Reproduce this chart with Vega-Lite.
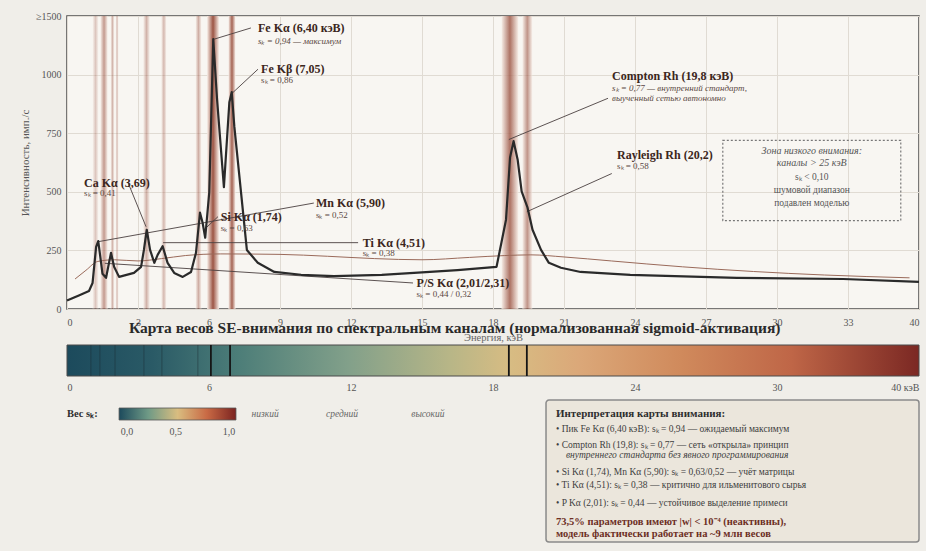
{
  "$schema": "https://vega.github.io/schema/vega-lite/v6.json",
  "background": "#f0eee9",
  "padding": {"left": 18, "top": 10, "right": 5, "bottom": 5},
  "bounds": "flush",
  "spacing": 36,
  "config": {"font": "Liberation Serif, serif", "text": {"font": "Liberation Serif, serif"}, "axis": {"labelFont": "Liberation Serif, serif", "titleFont": "Liberation Serif, serif"}, "title": {"font": "Liberation Serif, serif"}, "view": {"stroke": null}},
  "datasets": {
    "spectrum": [
      {"e": 0, "i": 36}, {"e": 0.5, "i": 58}, {"e": 0.93, "i": 77}, {"e": 1.08, "i": 111},
      {"e": 1.23, "i": 265}, {"e": 1.32, "i": 290}, {"e": 1.44, "i": 197}, {"e": 1.5, "i": 150},
      {"e": 1.65, "i": 133}, {"e": 1.86, "i": 240}, {"e": 1.99, "i": 180}, {"e": 2.2, "i": 137},
      {"e": 2.83, "i": 154}, {"e": 3.13, "i": 180}, {"e": 3.25, "i": 252}, {"e": 3.37, "i": 338},
      {"e": 3.51, "i": 252}, {"e": 3.69, "i": 197}, {"e": 3.83, "i": 231}, {"e": 4.04, "i": 268},
      {"e": 4.25, "i": 197}, {"e": 4.53, "i": 154}, {"e": 4.89, "i": 137}, {"e": 5.24, "i": 158},
      {"e": 5.45, "i": 240}, {"e": 5.62, "i": 411}, {"e": 5.73, "i": 368}, {"e": 5.84, "i": 304},
      {"e": 6.01, "i": 497}, {"e": 6.18, "i": 1151}, {"e": 6.34, "i": 895}, {"e": 6.63, "i": 520},
      {"e": 6.86, "i": 882}, {"e": 6.96, "i": 925}, {"e": 7.07, "i": 779}, {"e": 7.6, "i": 252},
      {"e": 8.06, "i": 197}, {"e": 8.76, "i": 158}, {"e": 9.89, "i": 146}, {"e": 11.28, "i": 140},
      {"e": 13.3, "i": 146}, {"e": 15, "i": 156}, {"e": 16.5, "i": 166}, {"e": 18.15, "i": 180},
      {"e": 18.55, "i": 381}, {"e": 18.72, "i": 646}, {"e": 18.87, "i": 716}, {"e": 19.04, "i": 638},
      {"e": 19.21, "i": 502}, {"e": 19.46, "i": 432}, {"e": 19.67, "i": 338}, {"e": 20.03, "i": 252},
      {"e": 20.36, "i": 197}, {"e": 20.87, "i": 176}, {"e": 21.7, "i": 158}, {"e": 23.8, "i": 146},
      {"e": 28.3, "i": 133}, {"e": 32.8, "i": 128}, {"e": 36, "i": 116}
    ],
    "baseline": [
      {"e": 0.34, "i": 128}, {"e": 0.8, "i": 165}, {"e": 1.3, "i": 203}, {"e": 2.0, "i": 210},
      {"e": 3.0, "i": 205}, {"e": 4.0, "i": 215}, {"e": 5.0, "i": 228}, {"e": 6.5, "i": 235},
      {"e": 9.0, "i": 233}, {"e": 11.0, "i": 225}, {"e": 13.0, "i": 215}, {"e": 15.0, "i": 210},
      {"e": 17.0, "i": 220}, {"e": 18.5, "i": 228}, {"e": 19.6, "i": 231}, {"e": 21.0, "i": 222},
      {"e": 23.0, "i": 205}, {"e": 26.0, "i": 180}, {"e": 29.0, "i": 160}, {"e": 32.0, "i": 145},
      {"e": 35.6, "i": 133}
    ],
    "bands": [
      {"e": 1.08, "e2": 1.33, "w": 0.3}, {"e": 1.41, "e2": 1.72, "w": 0.55},
      {"e": 1.84, "e2": 2.0, "w": 0.4}, {"e": 2.05, "e2": 2.18, "w": 0.35},
      {"e": 3.22, "e2": 3.5, "w": 0.41}, {"e": 3.98, "e2": 4.2, "w": 0.38},
      {"e": 5.43, "e2": 5.68, "w": 0.44}, {"e": 5.92, "e2": 6.42, "w": 0.94},
      {"e": 6.82, "e2": 7.12, "w": 0.86}, {"e": 18.36, "e2": 19.07, "w": 0.77},
      {"e": 19.24, "e2": 19.66, "w": 0.58}
    ],
    "leaders": [
      {"e": 6.21, "i": 1151, "e2": 7.77, "i2": 1199},
      {"e": 6.93, "i": 916, "e2": 8.07, "i2": 1023},
      {"e": 3.34, "i": 351, "e2": 2.58, "i2": 539},
      {"e": 1.31, "i": 287, "e2": 10.43, "i2": 452},
      {"e": 5.79, "i": 338, "e2": 6.38, "i2": 394},
      {"e": 4.06, "i": 283, "e2": 12.3, "i2": 283},
      {"e": 1.6, "i": 195, "e2": 14.62, "i2": 111},
      {"e": 18.67, "i": 723, "e2": 22.86, "i2": 899},
      {"e": 19.43, "i": 415, "e2": 23.02, "i2": 578}
    ],
    "labels": [
      {"e": 8.07, "i": 1199, "text": "Fe Kα (6,40 кэВ)", "kind": "t"},
      {"e": 8.07, "i": 1143, "text": "sₖ = 0,94 — максимум", "kind": "si"},
      {"e": 8.2, "i": 1023, "text": "Fe Kβ (7,05)", "kind": "t"},
      {"e": 8.2, "i": 976, "text": "sₖ = 0,86", "kind": "s"},
      {"e": 0.72, "i": 539, "text": "Ca Kα (3,69)", "kind": "t"},
      {"e": 0.72, "i": 497, "text": "sₖ = 0,41", "kind": "s"},
      {"e": 10.52, "i": 454, "text": "Mn Kα (5,90)", "kind": "t"},
      {"e": 10.52, "i": 402, "text": "sₖ = 0,52", "kind": "s"},
      {"e": 6.5, "i": 394, "text": "Si Kα (1,74)", "kind": "t"},
      {"e": 6.5, "i": 347, "text": "sₖ = 0,63", "kind": "s"},
      {"e": 12.5, "i": 283, "text": "Ti Kα (4,51)", "kind": "t"},
      {"e": 12.5, "i": 240, "text": "sₖ = 0,38", "kind": "s"},
      {"e": 14.77, "i": 111, "text": "P/S Kα (2,01/2,31)", "kind": "t"},
      {"e": 14.77, "i": 64, "text": "sₖ = 0,44 / 0,32", "kind": "s"},
      {"e": 23.03, "i": 993, "text": "Compton Rh (19,8 кэВ)", "kind": "t"},
      {"e": 23.03, "i": 942, "text": "sₖ = 0,77 — внутренний стандарт,", "kind": "si"},
      {"e": 23.03, "i": 899, "text": "выученный сетью автономно", "kind": "si"},
      {"e": 23.24, "i": 655, "text": "Rayleigh Rh (20,2)", "kind": "t"},
      {"e": 23.24, "i": 608, "text": "sₖ = 0,58", "kind": "s"}
    ],
    "zone": [{"e": 27.71, "e2": 35.23, "i": 377, "i2": 719}],
    "zoneText": [
      {"e": 31.47, "i": 672, "text": "Зона низкого внимания:", "kind": "zi"},
      {"e": 31.47, "i": 625, "text": "каналы > 25 кэВ", "kind": "zi"},
      {"e": 31.47, "i": 565, "text": "sₖ < 0,10", "kind": "zn"},
      {"e": 31.47, "i": 509, "text": "шумовой диапазон", "kind": "zn"},
      {"e": 31.47, "i": 454, "text": "подавлен моделью", "kind": "zn"}
    ],
    "stripHi": [{"e": 6.08}, {"e": 6.89}, {"e": 18.67}, {"e": 19.43}],
    "stripLo": [{"e": 1.01}, {"e": 1.39}, {"e": 2.03}, {"e": 3.25}, {"e": 4.01}, {"e": 5.53}],
    "legendText": [
      {"e": 0.0, "u": 1.2, "text": "Вес sₖ:", "kind": "lt"},
      {"e": 2.53, "u": 2.4, "text": "0,0", "kind": "ln"},
      {"e": 4.6, "u": 2.4, "text": "0,5", "kind": "ln"},
      {"e": 6.84, "u": 2.4, "text": "1,0", "kind": "ln"},
      {"e": 8.37, "u": 1.2, "text": "низкий", "kind": "li"},
      {"e": 11.62, "u": 1.2, "text": "средний", "kind": "li"},
      {"e": 15.25, "u": 1.2, "text": "высокий", "kind": "li"}
    ],
    "boxText": [
      {"e": 20.66, "u": 1.2, "text": "Интерпретация карты внимания:", "kind": "h"},
      {"e": 20.66, "u": 2.2, "text": "• Пик Fe Kα (6,40 кэВ): sₖ = 0,94 — ожидаемый максимум", "kind": "b"},
      {"e": 20.66, "u": 3.27, "text": "• Compton Rh (19,8): sₖ = 0,77 — сеть «открыла» принцип", "kind": "b"},
      {"e": 21.08, "u": 3.93, "text": "внутреннего стандарта без явного программирования", "kind": "bi"},
      {"e": 20.66, "u": 5.07, "text": "• Si Kα (1,74), Mn Kα (5,90): sₖ = 0,63/0,52 — учёт матрицы", "kind": "b"},
      {"e": 20.66, "u": 5.93, "text": "• Ti Kα (4,51): sₖ = 0,38 — критично для ильменитового сырья", "kind": "b"},
      {"e": 20.66, "u": 7.13, "text": "• P Kα (2,01): sₖ = 0,44 — устойчивое выделение примеси", "kind": "b"},
      {"e": 20.66, "u": 8.4, "text": "73,5% параметров имеют |w| < 10⁻⁴ (неактивны),", "kind": "r"},
      {"e": 20.66, "u": 9.2, "text": "модель фактически работает на ~9 млн весов", "kind": "r"}
    ]
  },
  "vconcat": [
    {
      "width": 852,
      "height": 293,
      "view": {"stroke": "#4d4d4d", "strokeWidth": 1.5, "fill": "#f8f6f2"},
      "layer": [
        {
          "data": {"name": "bands"},
          "mark": {"type": "rect", "fill": {"gradient": "linear", "x1": 0, "x2": 1, "y1": 0, "y2": 0, "stops": [{"offset": 0, "color": "#f6ece5"}, {"offset": 0.5, "color": "#9c5544"}, {"offset": 1, "color": "#f6ece5"}]}},
          "encoding": {
            "x": {"field": "e", "type": "quantitative", "scale": {"domain": [0, 36], "nice": false, "zero": false},
              "axis": {"values": [0, 3, 6, 9, 12, 15, 18, 21, 24, 27, 30, 33, 36], "format": "d", "labelExpr": "datum.value == 36 ? '40' : datum.label", "grid": true, "gridColor": "#e0dbd3", "ticks": false, "domain": false, "labelPadding": 8, "labelFontSize": 10, "labelColor": "#555", "title": "Энергия, кэВ", "titleFontSize": 10.5, "titleFontWeight": "normal", "titleColor": "#666", "titlePadding": 5}},
            "x2": {"field": "e2"},
            "opacity": {"field": "w", "type": "quantitative", "scale": {"domain": [0.3, 0.94], "range": [0.3, 1]}, "legend": null}
          }
        },
        {
          "data": {"name": "baseline"},
          "mark": {"type": "line", "color": "#9a6a5a", "strokeWidth": 1, "interpolate": "monotone"},
          "encoding": {
            "x": {"field": "e", "type": "quantitative", "scale": {"domain": [0, 36], "nice": false, "zero": false}},
            "y": {"field": "i", "type": "quantitative", "scale": {"domain": [0, 1250], "nice": false},
              "axis": {"values": [0, 250, 500, 750, 1000, 1250], "format": "d", "labelExpr": "datum.value == 1250 ? '≥1500' : datum.label", "grid": true, "gridColor": "#e0dbd3", "ticks": false, "domain": false, "labelPadding": 6, "labelFontSize": 10, "labelColor": "#555", "title": "Интенсивность, имп./с", "titleFontSize": 11, "titleFontWeight": "normal", "titleColor": "#555", "titlePadding": 5}}
          }
        },
        {
          "data": {"name": "leaders"},
          "mark": {"type": "rule", "color": "#4a4040", "strokeWidth": 0.9},
          "encoding": {
            "x": {"field": "e", "type": "quantitative"},
            "y": {"field": "i", "type": "quantitative"},
            "x2": {"field": "e2"},
            "y2": {"field": "i2"}
          }
        },
        {
          "data": {"name": "spectrum"},
          "mark": {"type": "line", "color": "#2a2a2a", "strokeWidth": 2.2, "strokeJoin": "round"},
          "encoding": {
            "x": {"field": "e", "type": "quantitative"},
            "y": {"field": "i", "type": "quantitative"}
          }
        },
        {
          "data": {"name": "zone"},
          "mark": {"type": "rect", "fillOpacity": 0, "stroke": "#777", "strokeWidth": 1.2, "strokeDash": [2, 2]},
          "encoding": {
            "x": {"field": "e", "type": "quantitative"},
            "x2": {"field": "e2"},
            "y": {"field": "i", "type": "quantitative"},
            "y2": {"field": "i2"}
          }
        },
        {
          "data": {"name": "labels"},
          "transform": [{"filter": "datum.kind == 't'"}],
          "mark": {"type": "text", "align": "left", "baseline": "middle", "fontSize": 12, "fontWeight": "bold", "color": "#3b2620"},
          "encoding": {
            "x": {"field": "e", "type": "quantitative"},
            "y": {"field": "i", "type": "quantitative"},
            "text": {"field": "text"}
          }
        },
        {
          "data": {"name": "labels"},
          "transform": [{"filter": "datum.kind == 's'"}],
          "mark": {"type": "text", "align": "left", "baseline": "middle", "fontSize": 9, "color": "#5a4842"},
          "encoding": {
            "x": {"field": "e", "type": "quantitative"},
            "y": {"field": "i", "type": "quantitative"},
            "text": {"field": "text"}
          }
        },
        {
          "data": {"name": "labels"},
          "transform": [{"filter": "datum.kind == 'si'"}],
          "mark": {"type": "text", "align": "left", "baseline": "middle", "fontSize": 9, "fontStyle": "italic", "color": "#5a4842"},
          "encoding": {
            "x": {"field": "e", "type": "quantitative"},
            "y": {"field": "i", "type": "quantitative"},
            "text": {"field": "text"}
          }
        },
        {
          "data": {"name": "zoneText"},
          "transform": [{"filter": "datum.kind == 'zi'"}],
          "mark": {"type": "text", "align": "center", "baseline": "middle", "fontSize": 10, "fontStyle": "italic", "color": "#555"},
          "encoding": {
            "x": {"field": "e", "type": "quantitative"},
            "y": {"field": "i", "type": "quantitative"},
            "text": {"field": "text"}
          }
        },
        {
          "data": {"name": "zoneText"},
          "transform": [{"filter": "datum.kind == 'zn'"}],
          "mark": {"type": "text", "align": "center", "baseline": "middle", "fontSize": 9.5, "color": "#555"},
          "encoding": {
            "x": {"field": "e", "type": "quantitative"},
            "y": {"field": "i", "type": "quantitative"},
            "text": {"field": "text"}
          }
        }
      ]
    },
    {
      "bounds": "flush",
      "spacing": 20,
      "vconcat": [
        {
          "width": 852,
          "height": 31,
          "title": {"text": "Карта весов SE-внимания по спектральным каналам (нормализованная sigmoid-активация)", "anchor": "start", "frame": "group", "dx": 62, "offset": 8, "fontSize": 15.5, "font": "Liberation Serif, serif", "fontWeight": "bold", "color": "#2a2a2a"},
          "layer": [
            {
              "data": {"values": [{"e": 0, "e2": 36}]},
              "mark": {"type": "rect", "stroke": "#4a4a4a", "strokeWidth": 1, "fill": {"gradient": "linear", "x1": 0, "x2": 1, "y1": 0, "y2": 0, "stops": [
                {"offset": 0, "color": "#1c4a5c"}, {"offset": 0.1, "color": "#2a5a66"}, {"offset": 0.2, "color": "#4c7d78"},
                {"offset": 0.33, "color": "#82a08a"}, {"offset": 0.45, "color": "#b8b687"}, {"offset": 0.52, "color": "#d7bc83"},
                {"offset": 0.6, "color": "#dba879"}, {"offset": 0.72, "color": "#d08a5c"}, {"offset": 0.85, "color": "#bf6647"},
                {"offset": 1, "color": "#7b2823"}]}},
              "encoding": {
                "x": {"field": "e", "type": "quantitative", "scale": {"domain": [0, 36], "nice": false, "zero": false},
                  "axis": {"values": [0, 6, 12, 18, 24, 30, 36], "format": "d", "labelExpr": "datum.value == 36 ? '40 кэВ' : datum.label", "grid": false, "ticks": false, "domain": false, "labelPadding": 6, "labelFontSize": 10, "labelColor": "#555", "title": null}},
                "x2": {"field": "e2"}
              }
            },
            {
              "data": {"name": "stripLo"},
              "mark": {"type": "rule", "color": "#1a2a30", "strokeWidth": 1, "opacity": 0.45},
              "encoding": {"x": {"field": "e", "type": "quantitative"}}
            },
            {
              "data": {"name": "stripHi"},
              "mark": {"type": "rule", "color": "#151515", "strokeWidth": 1.8},
              "encoding": {"x": {"field": "e", "type": "quantitative"}}
            }
          ]
        },
        {
          "width": 852,
          "height": 150,
          "layer": [
            {
              "data": {"values": [{"e": 20.24, "e2": 36, "u": 0.27, "u2": 9.73}]},
              "mark": {"type": "rect", "fill": "#ebe6dc", "stroke": "#8a8a8a", "strokeWidth": 1.5, "cornerRadius": 3},
              "encoding": {
                "x": {"field": "e", "type": "quantitative", "scale": {"domain": [0, 36], "nice": false, "zero": false}, "axis": null},
                "x2": {"field": "e2"},
                "y": {"field": "u", "type": "quantitative", "scale": {"domain": [0, 10], "reverse": true, "nice": false, "zero": false}, "axis": null},
                "y2": {"field": "u2"}
              }
            },
            {
              "data": {"values": [{"e": 2.2, "e2": 7.14, "u": 0.8, "u2": 1.6}]},
              "mark": {"type": "rect", "stroke": "#555", "strokeWidth": 0.8, "fill": {"gradient": "linear", "x1": 0, "x2": 1, "y1": 0, "y2": 0, "stops": [
                {"offset": 0, "color": "#1c4a5c"}, {"offset": 0.25, "color": "#6f9a86"}, {"offset": 0.5, "color": "#d9bd80"},
                {"offset": 0.75, "color": "#c96a45"}, {"offset": 1, "color": "#7b2320"}]}},
              "encoding": {
                "x": {"field": "e", "type": "quantitative"},
                "x2": {"field": "e2"},
                "y": {"field": "u", "type": "quantitative"},
                "y2": {"field": "u2"}
              }
            },
            {
              "data": {"name": "legendText"},
              "transform": [{"filter": "datum.kind == 'lt'"}],
              "mark": {"type": "text", "align": "left", "baseline": "middle", "fontSize": 10.5, "fontWeight": "bold", "color": "#2e2e2e"},
              "encoding": {"x": {"field": "e", "type": "quantitative"}, "y": {"field": "u", "type": "quantitative"}, "text": {"field": "text"}}
            },
            {
              "data": {"name": "legendText"},
              "transform": [{"filter": "datum.kind == 'ln'"}],
              "mark": {"type": "text", "align": "center", "baseline": "middle", "fontSize": 10, "color": "#555"},
              "encoding": {"x": {"field": "e", "type": "quantitative"}, "y": {"field": "u", "type": "quantitative"}, "text": {"field": "text"}}
            },
            {
              "data": {"name": "legendText"},
              "transform": [{"filter": "datum.kind == 'li'"}],
              "mark": {"type": "text", "align": "center", "baseline": "middle", "fontSize": 9.5, "fontStyle": "italic", "color": "#666"},
              "encoding": {"x": {"field": "e", "type": "quantitative"}, "y": {"field": "u", "type": "quantitative"}, "text": {"field": "text"}}
            },
            {
              "data": {"name": "boxText"},
              "transform": [{"filter": "datum.kind == 'h'"}],
              "mark": {"type": "text", "align": "left", "baseline": "middle", "fontSize": 11, "fontWeight": "bold", "color": "#2e2e2e"},
              "encoding": {"x": {"field": "e", "type": "quantitative"}, "y": {"field": "u", "type": "quantitative"}, "text": {"field": "text"}}
            },
            {
              "data": {"name": "boxText"},
              "transform": [{"filter": "datum.kind == 'b'"}],
              "mark": {"type": "text", "align": "left", "baseline": "middle", "fontSize": 9.5, "color": "#3e3e3e"},
              "encoding": {"x": {"field": "e", "type": "quantitative"}, "y": {"field": "u", "type": "quantitative"}, "text": {"field": "text"}}
            },
            {
              "data": {"name": "boxText"},
              "transform": [{"filter": "datum.kind == 'bi'"}],
              "mark": {"type": "text", "align": "left", "baseline": "middle", "fontSize": 9.5, "fontStyle": "italic", "color": "#3e3e3e"},
              "encoding": {"x": {"field": "e", "type": "quantitative"}, "y": {"field": "u", "type": "quantitative"}, "text": {"field": "text"}}
            },
            {
              "data": {"name": "boxText"},
              "transform": [{"filter": "datum.kind == 'r'"}],
              "mark": {"type": "text", "align": "left", "baseline": "middle", "fontSize": 10.5, "fontWeight": "bold", "color": "#6d2f25"},
              "encoding": {"x": {"field": "e", "type": "quantitative"}, "y": {"field": "u", "type": "quantitative"}, "text": {"field": "text"}}
            }
          ]
        }
      ]
    }
  ]
}
